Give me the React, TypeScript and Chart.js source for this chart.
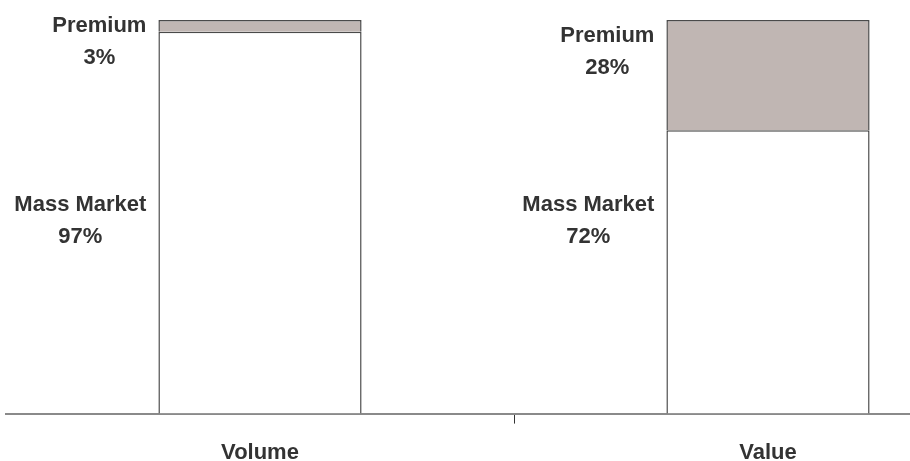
import React, { useEffect, useRef } from "react";
import { Chart, registerables } from "chart.js";

Chart.register(...registerables);

const categories = ["Volume", "Value"];
const massMarket = [97, 72];
const premium = [3, 28];
const seriesNames = ["Mass Market", "Premium"];
// vertical anchor (in value units) of each label block: [series][category]
const labelAnchor = [
  [49, 49],
  [94.4, 91.8],
];

const FONT = "'Liberation Sans', Arial, sans-serif";

const labelPlugin = {
  id: "sideLabels",
  afterDatasetsDraw(chart: any) {
    const { ctx } = chart;
    const y = chart.scales.y;
    ctx.save();
    ctx.font = `bold 22px ${FONT}`;
    ctx.fillStyle = "#333333";
    ctx.textBaseline = "middle";
    ctx.textAlign = "center";
    chart.data.datasets.forEach((ds: any, di: number) => {
      const meta = chart.getDatasetMeta(di);
      meta.data.forEach((bar: any, i: number) => {
        const lines = [seriesNames[di], `${ds.data[i]}%`];
        const w = Math.max(...lines.map((l) => ctx.measureText(l).width));
        const right = bar.x - bar.width / 2 - 12;
        const cx = right - w / 2;
        const cy = y.getPixelForValue(labelAnchor[di][i]);
        const lh = 32;
        lines.forEach((l, k) => {
          ctx.fillText(l, cx, cy + (k - 0.5) * lh);
        });
      });
    });
    ctx.restore();
  },
};

export default function App() {
  const ref = useRef<HTMLCanvasElement>(null);
  useEffect(() => {
    if (!ref.current) return;
    const chart = new Chart(ref.current, {
      type: "bar",
      data: {
        labels: categories,
        datasets: [
          {
            label: seriesNames[0],
            data: massMarket,
            backgroundColor: "#ffffff",
            borderColor: "#4a4a4a",
            borderWidth: 1.5,
          },
          {
            label: seriesNames[1],
            data: premium,
            backgroundColor: "#c0b6b3",
            borderColor: "#4a4a4a",
            borderWidth: 1.5,
          },
        ],
      },
      options: {
        responsive: false,
        animation: false,
        devicePixelRatio: 1,
        layout: { padding: { left: 6, right: 8, top: 20, bottom: 0 } },
        plugins: { legend: { display: false }, tooltip: { enabled: false } },
        datasets: { bar: { barPercentage: 1, categoryPercentage: 0.4 } },
        scales: {
          x: {
            stacked: true,
            offset: true,
            grid: {
              offset: true,
              drawOnChartArea: false,
              drawTicks: true,
              tickLength: 10,
              color: (c: any) => (c.index === 1 ? "#333333" : "rgba(0,0,0,0)"),
              lineWidth: 1,
            },
            border: { display: true, color: "#8a8a8a", width: 2 },
            ticks: {
              padding: 16,
              color: "#333333",
              font: { family: FONT, size: 22, weight: "bold" },
            },
          },
          y: {
            stacked: true,
            display: false,
            min: 0,
            max: 100,
          },
        },
      },
      plugins: [labelPlugin],
    });
    return () => chart.destroy();
  }, []);
  return (
    <div
      style={{
        position: "fixed",
        left: 0,
        top: 0,
        width: 910,
        height: 461,
        overflow: "hidden",
        background: "#ffffff",
      }}
    >
      <canvas ref={ref} width={1030} height={482} style={{ display: "block" }} />
    </div>
  );
}
